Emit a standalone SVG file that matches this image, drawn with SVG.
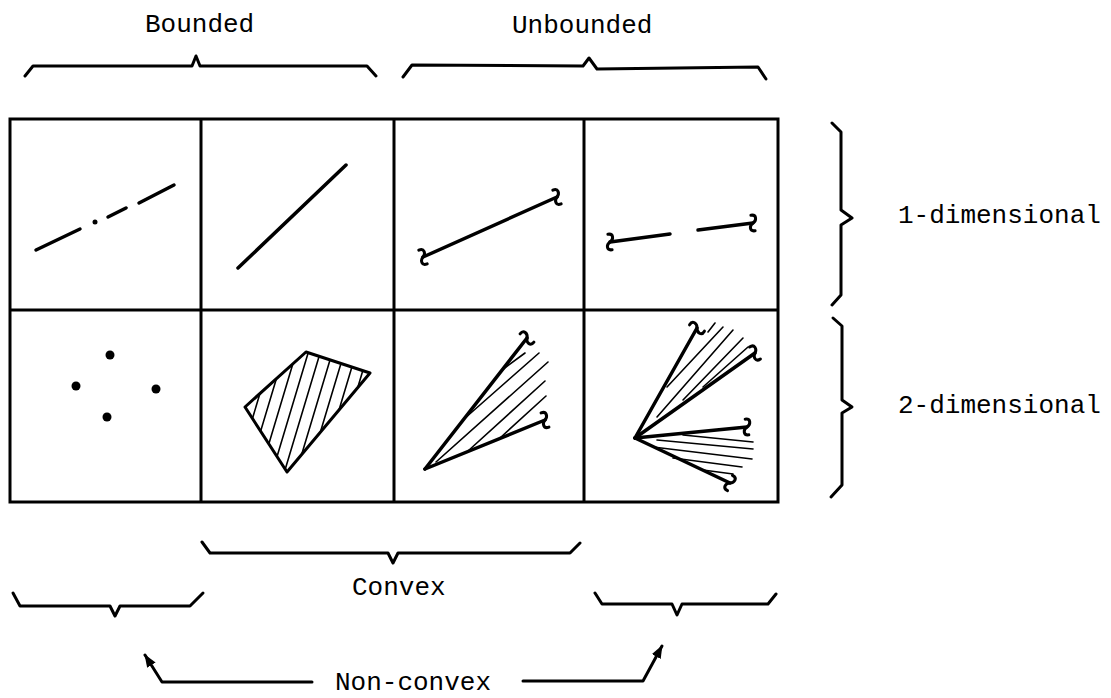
<svg xmlns="http://www.w3.org/2000/svg" xmlns:xlink="http://www.w3.org/1999/xlink" width="1111" height="698" viewBox="0 0 1111 698">
<style>
.t{font-family:"Liberation Mono","DejaVu Sans Mono",monospace;font-size:26px;fill:#000}
.b{fill:none;stroke:#000;stroke-width:3;stroke-linejoin:round;stroke-linecap:round}
.g{fill:none;stroke:#000;stroke-width:3}
.l{fill:none;stroke:#000;stroke-width:3.5;stroke-linecap:round}
.h{fill:none;stroke:#000;stroke-width:1.6;stroke-linecap:round}
.c{fill:none;stroke:#000;stroke-width:3;stroke-linecap:round}
</style>
<defs>
<path id="brk" d="M -1 -8 C 5 -8, 4 -2, 0 0 C -4 2, -5 8, 1 8" class="c"/>
<marker id="ah" markerUnits="userSpaceOnUse" markerWidth="14" markerHeight="10" refX="12" refY="5" orient="auto">
<path d="M0,0 L13,5 L0,10 z" fill="#000"/>
</marker>
<clipPath id="quad"><polygon points="245,407 306,352 370,373 287,472"/></clipPath>
</defs>
<rect width="1111" height="698" fill="#fff"/>

<g id="grid">
<rect x="10" y="119" width="768" height="383" class="g"/>
<line x1="10" y1="310" x2="778" y2="310" class="g"/>
<line x1="201" y1="119" x2="201" y2="502" class="g"/>
<line x1="394" y1="119" x2="394" y2="502" class="g"/>
<line x1="584" y1="119" x2="584" y2="502" class="g"/>
</g>

<g id="cell-1d-bounded-nonconvex">
<line x1="36" y1="250" x2="80" y2="229" class="l"/>
<circle cx="95" cy="222" r="2.5" fill="#000"/>
<line x1="108" y1="217" x2="126" y2="208" class="l"/>
<line x1="139" y1="203" x2="174" y2="185" class="l"/>
</g>

<g id="cell-1d-bounded-convex">
<line x1="238" y1="268" x2="346" y2="165" class="l"/>
</g>

<g id="cell-1d-unbounded-convex">
<line x1="423" y1="257" x2="557" y2="197" class="l"/>
<use xlink:href="#brk" transform="translate(557,197) rotate(-24)"/>
<use xlink:href="#brk" transform="translate(423,257) rotate(-24)"/>
</g>

<g id="cell-1d-unbounded-nonconvex">
<line x1="610" y1="242" x2="670" y2="234" class="l"/>
<line x1="698" y1="230" x2="753" y2="223" class="l"/>
<use xlink:href="#brk" transform="translate(753,223) rotate(-8)"/>
<use xlink:href="#brk" transform="translate(610,242) rotate(-8)"/>
</g>

<g id="cell-2d-bounded-nonconvex">
<circle cx="110" cy="355" r="4.5" fill="#000"/>
<circle cx="76" cy="386" r="4.5" fill="#000"/>
<circle cx="156" cy="389" r="4.5" fill="#000"/>
<circle cx="107" cy="417" r="4.5" fill="#000"/>
</g>

<g id="cell-2d-bounded-convex">
<g clip-path="url(#quad)">
<line x1="222" y1="480" x2="261" y2="350" class="h"/>
<line x1="234" y1="480" x2="273" y2="350" class="h"/>
<line x1="246" y1="480" x2="285" y2="350" class="h"/>
<line x1="258" y1="480" x2="297" y2="350" class="h"/>
<line x1="270" y1="480" x2="309" y2="350" class="h"/>
<line x1="282" y1="480" x2="321" y2="350" class="h"/>
<line x1="294" y1="480" x2="333" y2="350" class="h"/>
<line x1="306" y1="480" x2="345" y2="350" class="h"/>
<line x1="318" y1="480" x2="357" y2="350" class="h"/>
<line x1="330" y1="480" x2="369" y2="350" class="h"/>
</g>
<polygon points="245,407 306,352 370,373 287,472" fill="none" stroke="#000" stroke-width="3" stroke-linejoin="round"/>
</g>

<g id="cell-2d-unbounded-convex">
<line x1="502" y1="370" x2="525" y2="353" class="h"/>
<line x1="464" y1="419" x2="539" y2="353" class="h"/>
<line x1="436" y1="462" x2="548" y2="362" class="h"/>
<line x1="468" y1="451" x2="545" y2="381" class="h"/>
<line x1="500" y1="438" x2="546" y2="396" class="h"/>
<line x1="425" y1="469" x2="527" y2="338" class="l"/>
<line x1="425" y1="469" x2="545" y2="420" class="l"/>
<use xlink:href="#brk" transform="translate(527,338) rotate(-52)"/>
<use xlink:href="#brk" transform="translate(545,420) rotate(-22)"/>
</g>

<g id="cell-2d-unbounded-nonconvex">
<line x1="708" y1="332" x2="715" y2="323" class="h"/>
<line x1="667" y1="387" x2="723" y2="327" class="h"/>
<line x1="657" y1="417" x2="733" y2="330" class="h"/>
<line x1="683" y1="400" x2="743" y2="338" class="h"/>
<line x1="703" y1="387" x2="748" y2="347" class="h"/>
<line x1="683" y1="435" x2="753" y2="442" class="h"/>
<line x1="657" y1="440" x2="753" y2="449" class="h"/>
<line x1="653" y1="447" x2="752" y2="459" class="h"/>
<line x1="673" y1="458" x2="742" y2="467" class="h"/>
<line x1="703" y1="470" x2="733" y2="474" class="h"/>
<line x1="635" y1="438" x2="697" y2="328" class="l"/>
<line x1="635" y1="438" x2="755" y2="353" class="l"/>
<line x1="635" y1="438" x2="747" y2="427" class="l"/>
<line x1="635" y1="438" x2="730" y2="483" class="l"/>
<use xlink:href="#brk" transform="translate(697,328) rotate(-60)"/>
<use xlink:href="#brk" transform="translate(755,353) rotate(-35)"/>
<use xlink:href="#brk" transform="translate(747,427) rotate(-6)"/>
<use xlink:href="#brk" transform="translate(730,483) rotate(25)"/>
</g>

<g id="label-bounded">
<text class="t" x="145" y="32">Bounded</text>
<path class="b" d="M25,76 L33,66 L192,66 L196,56 L200,66 L367,66 L376,76"/>
</g>

<g id="label-unbounded">
<text class="t" x="512" y="33">Unbounded</text>
<path class="b" d="M403,77 L412,65 L583,66 L589,58 L597,69 L758,67 L766,79"/>
</g>

<g id="label-1d">
<path class="b" d="M832,123 L841,132 L841,210 L852,218 L841,225 L841,295 L832,305"/>
<text class="t" x="898" y="223">1-dimensional</text>
</g>

<g id="label-2d">
<path class="b" d="M833,318 L842,326 L842,400 L852,407 L842,413 L842,485 L831,497"/>
<text class="t" x="898" y="413">2-dimensional</text>
</g>

<g id="label-convex">
<path class="b" d="M202,542 L210,553 L388,553 L393,563 L398,553 L570,553 L580,543"/>
<text class="t" x="352" y="595">Convex</text>
</g>

<g id="label-nonconvex">
<path class="b" d="M13,593 L20,606 L110,606 L115,616 L120,606 L190,606 L203,593"/>
<path class="b" d="M595,593 L602,604 L672,604 L677,615 L682,604 L768,604 L776,594"/>
<text class="t" x="335" y="690">Non-convex</text>
</g>

<g id="connectors">
<path class="b" d="M312,682 L162,682 L145,655" marker-end="url(#ah)"/>
<path class="b" d="M523,681 L643,681 L662,646" marker-end="url(#ah)"/>
</g>
</svg>
